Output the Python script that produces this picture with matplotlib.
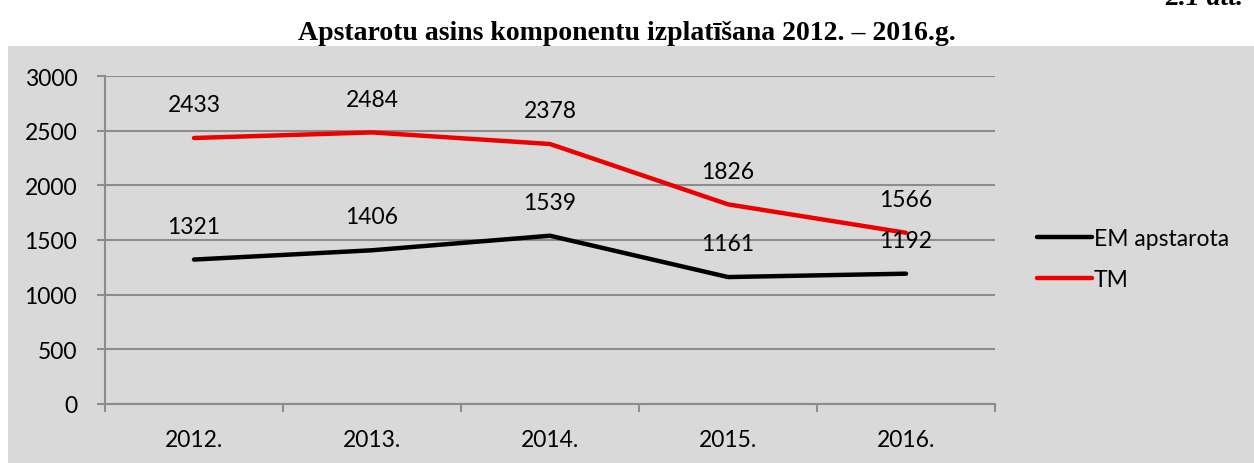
import matplotlib
matplotlib.use("Agg")
import matplotlib.pyplot as plt
from matplotlib.patches import Rectangle

years = ["2012.", "2013.", "2014.", "2015.", "2016."]
em_values = [1321, 1406, 1539, 1161, 1192]
tm_values = [2433, 2484, 2378, 1826, 1566]
series_names = ["EM apstarota", "TM"]
title = "Apstarotu asins komponentu izplatīšana 2012. – 2016.g."
fig_note = "2.1 att."

W, H = 1254, 464
fig = plt.figure(figsize=(W / 100, H / 100), dpi=100)
fig.patch.set_facecolor("white")

# grey chart panel
fig.patches.append(Rectangle((8 / W, 0), 1 - 8 / W, 1 - 47 / H, transform=fig.transFigure,
                             facecolor="#d9d9d9", edgecolor="none", zorder=0))

fig.text(627 / W, 1 - 33 / H, title, ha="center", va="center", fontsize=20,
         fontweight="bold", family="Liberation Serif")
# figure number, cut off at the top edge as in the source
fig.text(1243 / W, 1 - 5 / H, fig_note, ha="right", va="baseline", fontsize=20,
         fontweight="bold", style="italic", family="Liberation Serif")

ax = fig.add_axes([105 / W, 1 - 405 / H, 890 / W, 328 / H])
ax.set_zorder(2)
ax.set_facecolor("none")

x = list(range(len(years)))
grid_col = "#8c8c8c"
l1, = ax.plot(x, em_values, color="black", lw=3.2, solid_capstyle="round", label=series_names[0], zorder=3)
l2, = ax.plot(x, tm_values, color="#ee0000", lw=3.2, solid_capstyle="round", label=series_names[1], zorder=3)

for vals in (em_values, tm_values):
    for xi, v in zip(x, vals):
        ax.annotate(str(v), (xi, v), xytext=(0, 24), textcoords="offset points",
                    ha="center", va="center", fontsize=16.5, family="Lato", zorder=4)

ax.set_xlim(-0.5, len(years) - 0.5)
ax.set_ylim(0, 3000)
ax.set_yticks(range(0, 3001, 500))
ax.set_xticks(x)
ax.set_xticklabels(years)
ax.set_xticks([i - 0.5 for i in range(len(years) + 1)], minor=True)
ax.tick_params(axis="x", which="major", length=0, pad=18)
ax.tick_params(axis="x", which="minor", length=6, color=grid_col, width=1.5, direction="out")
ax.tick_params(axis="y", length=6, color=grid_col, width=1.5, pad=14)
for lab in ax.get_xticklabels() + ax.get_yticklabels():
    lab.set_fontsize(16.5)
    lab.set_family("Lato")

ax.grid(axis="y", color=grid_col, lw=1.5)
ax.set_axisbelow(True)
for s in ["top", "right"]:
    ax.spines[s].set_visible(False)
for s in ["left", "bottom"]:
    ax.spines[s].set_color(grid_col)
    ax.spines[s].set_linewidth(1.5)

leg = fig.legend(handles=[l1, l2], loc="center left", bbox_to_anchor=(1016 / W, 1 - 260 / H),
                 frameon=False, prop={"family": "Lato", "size": 16.5}, handlelength=2.4,
                 handletextpad=0.1, labelspacing=0.85)
leg.set_zorder(3)

fig.savefig("out.png", dpi=100)
